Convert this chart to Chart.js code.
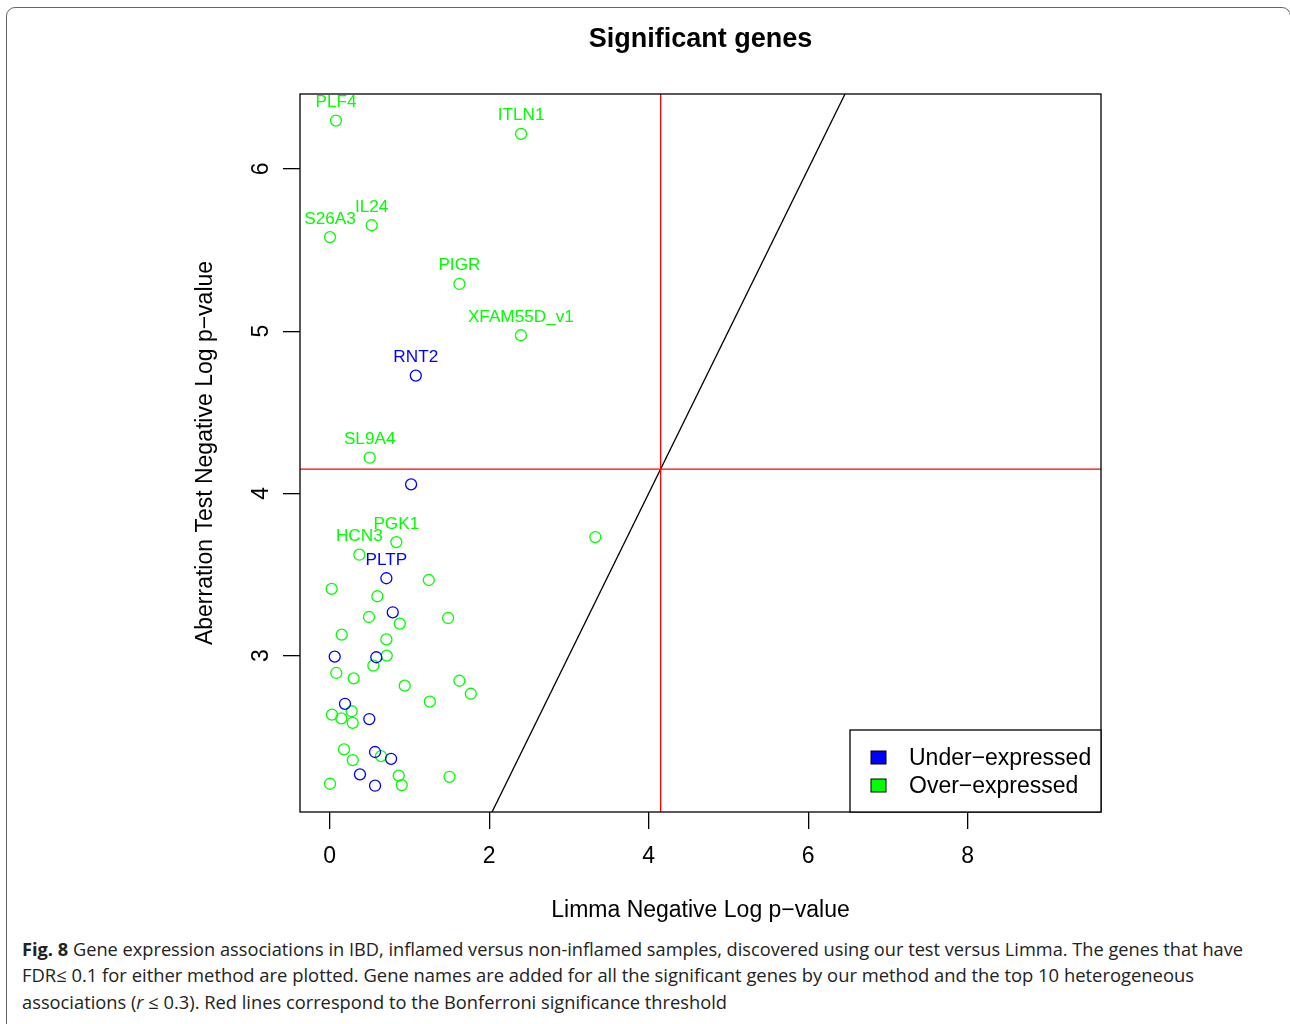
<!DOCTYPE html>
<html>
<head>
<meta charset="utf-8">
<title>Significant genes</title>
<script src="https://cdn.jsdelivr.net/npm/chart.js@4/dist/chart.umd.min.js"></script>
<style>
  html, body { margin: 0; padding: 0; background: #fff; }
  body { width: 1290px; height: 1024px; position: relative; overflow: hidden; }
  #frame {
    position: absolute; left: 6px; top: 7px; width: 1285px; height: 1100px;
    box-sizing: border-box; border: 1.5px solid #666; border-radius: 9px;
  }
  #plot { position: absolute; left: 0; top: 0; }
  #caption {
    position: absolute; left: 22px; top: 936px;
    font-family: "Open Sans", "Noto Sans", sans-serif; font-size: 18px;
    line-height: 26.3px; color: #222; white-space: nowrap;
  }
  #caption .ln { transform-origin: 0 0; width: max-content; }
  #caption b { font-weight: 700; }
</style>
</head>
<body>
<div id="frame"></div>
<canvas id="plot" width="1290" height="930"></canvas>
<div id="caption">
  <div class="ln" data-w="1221"><b>Fig. 8</b> Gene expression associations in IBD, inflamed versus non-inflamed samples, discovered using our test versus Limma. The genes that have</div>
  <div class="ln" data-w="1172">FDR≤ 0.1 for either method are plotted. Gene names are added for all the significant genes by our method and the top 10 heterogeneous</div>
  <div class="ln" data-w="705">associations (<i>r</i> ≤ 0.3). Red lines correspond to the Bonferroni significance threshold</div>
</div>
<script>
// ---- data: -log10 p-values, Limma (x) vs aberration test (y) ----
const underLimma = [1.08, 1.021, 0.711, 0.791, 0.063, 0.585, 0.192, 0.497, 0.569, 0.77, 0.38, 0.569];
const underAberration = [4.726, 4.056, 3.477, 3.267, 2.994, 2.99, 2.703, 2.609, 2.406, 2.364, 2.268, 2.198];
const underNames = ['RNT2', '', 'PLTP', '', '', '', '', '', '', '', '', ''];

const overLimma = [0.079, 2.40, 0.527, 0.004, 1.627, 2.398, 0.502, 3.331, 0.836, 0.372,
  1.243, 0.025, 0.598, 1.485, 0.493, 0.879, 0.151, 0.711, 0.716, 0.548,
  0.083, 0.301, 1.627, 0.941, 1.77, 1.256, 0.276, 0.029, 0.146, 0.289,
  0.18, 0.644, 0.289, 0.866, 1.502, 0.004, 0.904];
const overAberration = [6.298, 6.216, 5.653, 5.58, 5.291, 4.975, 4.22, 3.731, 3.70, 3.622,
  3.466, 3.411, 3.366, 3.232, 3.238, 3.197, 3.129, 3.10, 3.0, 2.938,
  2.893, 2.86, 2.845, 2.815, 2.765, 2.716, 2.657, 2.636, 2.613, 2.586,
  2.422, 2.381, 2.356, 2.26, 2.253, 2.21, 2.202];
const overNames = ['PLF4', 'ITLN1', 'IL24', 'S26A3', 'PIGR', 'XFAM55D_v1', 'SL9A4', '', 'PGK1', 'HCN3',
  '', '', '', '', '', '', '', '', '', '',
  '', '', '', '', '', '', '', '', '', '',
  '', '', '', '', '', '', ''];

const seriesLabels = ['Under\u2212expressed', 'Over\u2212expressed'];
const seriesColors = ['#0000ff', '#00ff00'];

const bonferroni = 4.15;          // threshold, same on both axes
const xRange = [-0.372, 9.672];
const yRange = [2.036, 6.462];
const xTicks = [0, 2, 4, 6, 8];
const yTicks = [3, 4, 5, 6];
const identity = [0, 10];         // y = x reference line

const FONT = '"Liberation Sans", Arial, Helvetica, sans-serif';
const BASE = 23;
Chart.defaults.font.family = FONT;
Chart.defaults.color = '#000';

const pts = (xs, ys) => xs.map((x, i) => ({ x, y: ys[i] }));

// gene names above their points
const geneLabels = {
  id: 'geneLabels',
  afterDatasetsDraw(chart) {
    const ctx = chart.ctx;
    chart.data.datasets.forEach((ds, i) => {
      if (!ds.names) return;
      const meta = chart.getDatasetMeta(i);
      ctx.save();
      ctx.font = '17.2px ' + FONT;
      ctx.fillStyle = ds.borderColor;
      ctx.textAlign = 'center';
      ctx.textBaseline = 'alphabetic';
      meta.data.forEach((el, j) => {
        const name = ds.names[j];
        if (name) ctx.fillText(name, el.x, el.y - 13.5);
      });
      ctx.restore();
    });
  }
};

// plot frame and legend box
const frameAndLegend = {
  id: 'frameAndLegend',
  afterDraw(chart) {
    const { ctx, chartArea: a } = chart;
    ctx.save();
    ctx.strokeStyle = '#000';
    ctx.lineWidth = 1.3;
    ctx.strokeRect(a.left, a.top, a.right - a.left, a.bottom - a.top);

    const w = 251, h = 82;
    const lx = a.right - w, ly = a.bottom - h;
    ctx.fillStyle = '#fff';
    ctx.fillRect(lx, ly, w, h);
    ctx.strokeRect(lx, ly, w, h);
    ctx.font = BASE + 'px ' + FONT;
    ctx.textBaseline = 'middle';
    ctx.textAlign = 'left';
    const items = chart.data.datasets.filter(d => d.names);
    items.forEach((d, k) => {
      const cy = ly + 28 + k * 28;
      ctx.fillStyle = d.borderColor;
      ctx.lineWidth = 1;
      ctx.fillRect(lx + 21, cy - 7, 15, 13);
      ctx.strokeRect(lx + 21, cy - 7, 15, 13);
      ctx.fillStyle = '#000';
      ctx.fillText(d.label, lx + 59, cy + 1);
    });
    ctx.restore();
  }
};

const refLine = (data, color) => ({
  type: 'line', data, borderColor: color, borderWidth: 1.3,
  pointRadius: 0, showLine: true, fill: false, tension: 0
});

new Chart(document.getElementById('plot'), {
  type: 'scatter',
  data: {
    datasets: [
      {
        label: seriesLabels[0], names: underNames,
        data: pts(underLimma, underAberration),
        borderColor: seriesColors[0], backgroundColor: 'rgba(0,0,0,0)',
        pointRadius: 5.5, pointBorderWidth: 1.3, pointHoverRadius: 5.5
      },
      {
        label: seriesLabels[1], names: overNames,
        data: pts(overLimma, overAberration),
        borderColor: seriesColors[1], backgroundColor: 'rgba(0,0,0,0)',
        pointRadius: 5.5, pointBorderWidth: 1.3, pointHoverRadius: 5.5
      },
      refLine([{ x: bonferroni, y: -100 }, { x: bonferroni, y: 100 }], '#ff0000'),
      refLine([{ x: -100, y: bonferroni }, { x: 100, y: bonferroni }], '#ff0000'),
      refLine(identity.map(v => ({ x: v, y: v })), '#000000')
    ]
  },
  options: {
    responsive: false,
    animation: false,
    devicePixelRatio: 1,
    events: [],
    layout: { padding: { left: 191.5, right: 189, top: 0, bottom: 0 } },
    plugins: {
      legend: { display: false },
      tooltip: { enabled: false },
      title: {
        display: true, text: 'Significant genes', fullSize: false,
        font: { size: 27, weight: 'bold', family: FONT }, color: '#000',
        padding: { top: 23.1, bottom: 38.5 }
      }
    },
    scales: {
      x: {
        type: 'linear', position: 'bottom',
        min: xRange[0], max: xRange[1],
        afterFit: s => { s.height = 118; },
        afterBuildTicks: s => { s.ticks = xTicks.map(v => ({ value: v })); },
        border: { display: false },
        grid: { display: true, drawOnChartArea: false, drawTicks: true, tickLength: 17, color: '#000', lineWidth: 1.3 },
        ticks: { font: { size: BASE }, padding: 13.5, maxRotation: 0, minRotation: 0 },
        title: { display: true, text: 'Limma Negative Log p\u2212value', font: { size: BASE }, padding: { top: 0, bottom: 5.5 } }
      },
      y: {
        type: 'linear', position: 'left',
        min: yRange[0], max: yRange[1],
        afterFit: s => { s.width = 108.5; },
        afterBuildTicks: s => { s.ticks = yTicks.map(v => ({ value: v })); },
        border: { display: false },
        grid: { display: true, drawOnChartArea: false, drawTicks: true, tickLength: 17, color: '#000', lineWidth: 1.3 },
        ticks: { font: { size: BASE }, padding: 15, minRotation: 90, maxRotation: 90, crossAlign: 'center' },
        title: { display: true, text: 'Aberration Test Negative Log p\u2212value', font: { size: BASE }, padding: { top: 0, bottom: 0 } }
      }
    }
  },
  plugins: [geneLabels, frameAndLegend]
});

// fit each caption line to its column width
document.querySelectorAll('#caption .ln').forEach(ln => {
  const tw = ln.getBoundingClientRect().width;
  ln.style.transform = 'scaleX(' + (Number(ln.dataset.w) / tw) + ')';
});
</script>
</body>
</html>
